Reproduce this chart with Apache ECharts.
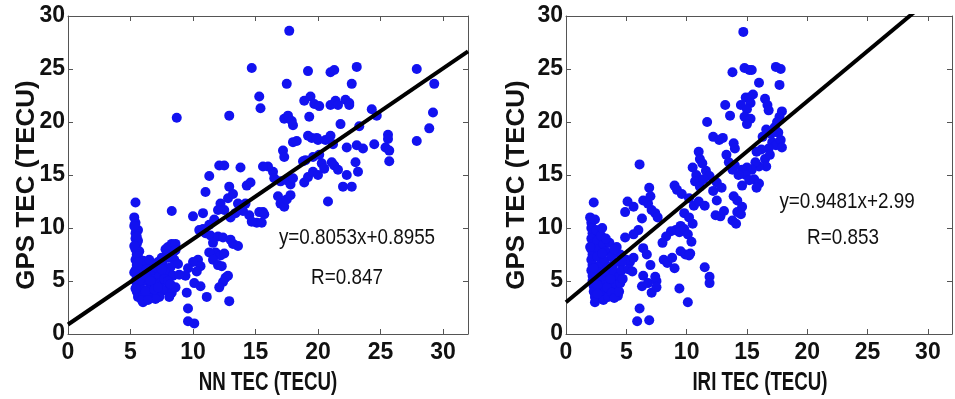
<!DOCTYPE html>
<html>
<head>
<meta charset="utf-8">
<script src="https://cdn.jsdelivr.net/npm/echarts@6/dist/echarts.min.js"></script>
<style>
html,body{margin:0;padding:0;background:#fff;}
#chart{width:955px;height:399px;}
</style>
</head>
<body>
<div id="chart"></div>
<script>
// ---------- Data ----------
var tickValues = [0, 5, 10, 15, 20, 25, 30];
var axisNames = { leftX: 'NN TEC (TECU)', rightX: 'IRI TEC (TECU)', y: 'GPS TEC (TECU)' };
var fitLeft = { slope: 0.8053, intercept: 0.8955, label: 'y=0.8053x+0.8955', r: 'R=0.847' };
var fitRight = { slope: 0.9481, intercept: 2.99, label: 'y=0.9481x+2.99', r: 'R=0.853' };

// Left panel: NN TEC (x) vs GPS TEC (y)
var nnTEC = [
17.7,14.7,19.2,21.0,21.3,23.1,27.9,29.3,17.5,22.7,15.3,15.4,18.9,19.4,19.7,20.1,21.0,21.4,21.6,22.2,22.5,22.5,24.3,24.7,29.2,28.9,27.9,
8.7,12.9,17.3,17.6,17.9,18.0,19.3,20.0,21.8,23.3,18.0,18.3,19.2,19.5,19.9,20.6,21.0,21.2,22.3,23.1,23.6,24.5,25.4,25.6,25.6,25.7,25.7,
17.2,17.3,18.8,19.0,19.6,20.1,20.3,20.5,21.1,21.3,21.6,22.0,22.7,22.3,23.0,23.2,20.8,18.9,19.2,19.6,20.0,16.4,16.5,17.0,17.5,17.8,18.0,
16.0,15.6,16.8,17.0,17.3,17.5,17.8,15.3,15.6,15.7,15.1,15.5,14.5,14.7,14.0,14.2,13.8,11.3,12.1,12.5,14.3,14.6,12.9,12.8,12.2,12.5,
11.0,13.2,13.6,13.4,13.0,12.0,11.7,11.3,10.0,10.8,8.3,10.5,10.8,11.0,11.4,12.0,12.4,13.0,13.2,13.6,11.6,11.8,12.2,12.5,11.3,11.6,12.0,12.3,
10.4,10.6,10.0,10.3,9.6,9.4,10.1,12.6,12.8,12.4,12.1,10.6,9.5,11.1,12.9,9.6,9.6,10.1,
8.3,8.0,8.6,8.4,7.8,8.5,8.2,8.8,7.9,7.6,7.2,7.8,8.4,8.0,8.3,8.6,
5.4,5.4,5.4,5.4,5.4,5.5,5.4,5.5,5.4,5.5,5.4,5.5,5.4,5.5,5.5,5.6,
5.6,5.6,5.7,5.6,5.7,5.8,5.8,5.9,6.0,6.0,
6.2,6.4,6.3,6.5,6.6,6.8,6.9,7.0,7.1,7.3,7.4,7.6,7.3,6.2,6.7,7.0,6.0,6.5,
5.3,5.3,5.5,5.3,5.6,5.3,5.7,5.4,5.9,6.1,6.3,6.6,6.9,7.2,7.5,7.7,8.0,8.2,7.0,6.4,8.0,8.6,7.5,8.9,8.1
];
var gpsTEC_NN = [
28.6,25.1,24.8,24.7,24.9,25.2,25.0,23.6,23.6,23.6,22.4,21.3,22.0,22.4,21.7,21.5,21.6,22.0,21.6,22.1,21.8,21.6,21.2,20.6,20.9,19.4,18.2,
20.4,20.6,20.3,20.6,20.1,19.7,20.5,18.3,19.8,19.6,18.1,18.2,18.7,18.5,18.5,18.3,18.7,17.9,17.6,17.8,17.5,17.9,17.6,18.8,18.4,17.3,16.3,
17.3,16.7,16.3,16.4,16.7,16.9,16.1,15.6,16.2,15.9,15.5,13.9,13.9,15.0,16.2,15.3,12.5,14.3,14.8,15.3,15.0,15.3,14.7,14.4,14.5,14.1,14.7,
15.8,15.8,13.0,12.3,12.0,12.7,13.1,11.5,11.5,11.3,10.5,10.5,11.2,10.6,11.6,12.3,15.7,14.9,15.9,15.9,14.0,14.3,13.9,12.8,12.3,11.7,
13.4,13.2,12.3,11.4,11.0,11.7,10.8,10.3,11.1,11.4,11.6,9.8,9.9,9.5,9.3,9.2,9.1,8.9,8.5,8.3,8.6,7.7,7.4,7.6,7.7,7.0,6.5,6.4,
7.0,6.4,6.8,5.9,6.2,5.5,4.8,5.3,5.5,4.9,4.4,4.5,3.9,3.5,3.1,2.4,1.2,1.0,
8.5,8.2,8.5,7.7,8.0,7.0,6.3,6.6,7.5,6.5,6.8,5.8,5.5,4.3,3.9,4.4,
12.4,10.5,10.0,9.5,9.0,8.5,8.0,7.5,7.0,6.5,6.0,5.5,5.0,4.5,4.0,3.5,
9.8,8.8,7.8,7.3,6.2,5.3,4.8,4.2,3.6,3.0,
6.5,5.8,5.0,4.3,3.6,6.0,5.2,4.6,3.9,5.5,4.8,4.1,3.5,4.0,6.6,6.3,6.9,7.0,
11.0,10.2,9.2,8.3,6.8,5.8,5.0,4.3,3.2,5.6,6.1,5.0,4.2,4.4,6.1,5.2,5.0,4.7,3.3,3.2,7.2,7.9,7.2,5.6,3.5
];

// Right panel: IRI TEC (x) vs GPS TEC (y)
var iriTEC = [
14.7,13.8,14.8,15.2,15.4,17.4,17.8,16.0,17.7,13.2,13.6,14.5,14.9,15.2,15.5,15.3,15.0,16.5,16.7,16.8,14.8,15.3,15.0,
11.7,12.2,12.7,13.0,13.9,14.0,
17.9,17.7,17.5,17.3,17.6,17.0,16.6,16.3,17.1,17.4,17.8,17.9,16.8,16.2,15.8,
16.5,16.9,16.6,16.0,15.7,15.4,15.0,14.6,14.9,15.2,15.6,16.0,15.8,14.6,14.3,
13.3,13.5,13.8,14.0,13.9,14.2,14.6,14.2,14.5,13.8,14.1,12.4,12.8,13.1,12.5,12.2,12.5,12.9,
11.0,11.1,11.3,11.6,11.9,10.5,10.8,10.7,11.1,11.4,9.0,9.2,9.6,10.2,10.6,11.0,11.5,
9.8,10.2,10.5,9.5,9.1,9.4,9.8,10.1,10.4,10.3,9.9,9.5,8.7,8.3,8.0,8.1,8.4,8.8,9.0,
7.4,7.1,6.8,6.4,6.9,7.0,7.6,5.1,4.9,5.6,6.1,6.3,6.0,5.6,4.9,6.4,6.7,7.0,
6.4,6.3,6.8,7.1,7.5,7.4,7.5,6.1,5.9,6.9,9.4,10.1,11.5,11.9,11.9,10.2,
5.0,5.3,5.6,4.6,4.2,4.5,
2.3,2.1,2.1,2.2,2.1,2.2,2.1,2.2,2.1,2.2,2.1,2.2,2.2,2.3,2.3,2.4,2.4,
2.5,2.6,2.7,2.6,2.8,2.7,2.9,2.8,3.0,3.1,
3.1,3.3,3.2,3.4,3.5,3.3,3.6,3.5,3.8,3.9,4.0,4.1,4.2,4.3,3.9,4.4,4.6,3.6,2.9,3.0,
2.0,2.4,2.0,2.3,2.5,2.6,2.6,3.0,3.2,3.4,3.7,3.8,4.0,4.4,4.5,3.0,3.3,4.0,4.7,5.2,5.5
];
var gpsTEC_IRI = [
28.5,24.7,25.1,24.9,24.9,25.2,25.0,23.7,23.5,21.6,20.6,21.6,22.3,22.3,22.6,21.8,21.2,22.2,21.6,21.1,20.5,20.3,19.8,
20.0,18.6,18.3,18.5,18.0,17.5,
21.0,20.5,20.0,19.5,19.0,18.9,19.3,18.6,18.1,17.8,18.3,17.6,17.5,17.4,17.2,
16.5,16.9,15.8,15.8,16.2,15.5,15.7,15.5,15.0,14.5,14.6,14.2,13.8,14.0,15.0,
16.9,16.2,15.5,15.9,13.0,12.6,12.0,11.5,11.3,10.7,10.4,11.2,11.1,11.6,12.6,13.5,14.3,13.8,
17.2,16.5,16.1,15.4,14.9,15.7,15.0,14.4,13.9,14.6,14.0,13.6,13.2,12.8,12.1,12.5,12.1,
11.4,11.0,10.4,10.2,9.8,9.6,9.9,9.4,8.7,7.6,7.5,7.8,9.7,9.2,8.6,7.0,6.7,7.2,6.2,
11.4,11.7,12.3,12.6,13.8,13.0,11.0,12.5,11.5,12.0,16.0,10.9,9.8,9.4,9.1,8.1,7.5,6.5,
5.5,4.5,4.8,3.9,5.0,5.4,4.4,2.4,1.2,1.3,4.3,3.0,6.3,5.4,4.8,7.4,
7.0,6.8,7.2,6.7,8.2,7.5,
12.4,10.5,10.0,9.5,9.0,8.5,8.0,7.5,7.0,6.5,6.0,5.5,5.0,4.5,4.0,3.5,3.0,
9.8,8.8,8.0,7.3,6.5,5.8,5.0,4.3,3.7,3.2,
8.5,7.8,6.9,6.2,5.5,4.8,4.1,3.5,7.3,6.5,5.8,5.0,4.3,3.6,4.7,5.4,6.0,8.6,9.3,7.6,
11.0,10.8,8.2,6.2,5.3,4.6,3.8,5.5,5.9,4.4,5.2,3.9,3.4,4.0,4.8,10.0,9.0,8.0,5.2,6.1,5.9
];

// ---------- Helpers ----------
function pairs(xs, ys) {
  var out = [];
  for (var i = 0; i < xs.length && i < ys.length; i++) out.push([xs[i], ys[i]]);
  return out;
}
function fitLine(fit, x0, x1) {
  return [[x0, fit.slope * x0 + fit.intercept], [x1, fit.slope * x1 + fit.intercept]];
}

var font = '"Liberation Sans", Arial, Helvetica, sans-serif';
var ink = '#111';
var blue = '#1212f0';
var boxColor = '#555';

var chart = echarts.init(document.getElementById('chart'), null, { renderer: 'canvas' });

function xAxisDef(grid, pos) {
  var main = pos === 'bottom';
  return {
    type: 'value', gridIndex: grid, position: pos, min: 0, max: 32, interval: 5,
    axisLine: { show: true, onZero: false, lineStyle: { color: boxColor, width: 1 } },
    axisTick: { show: true, inside: true, length: 5, lineStyle: { color: boxColor } },
    axisLabel: { show: main, margin: 7, fontFamily: font, fontSize: 23, fontWeight: 'bold', color: ink,
      formatter: function (v) { return tickValues.indexOf(v) >= 0 ? String(v) : ''; } },
    splitLine: { show: false }
  };
}
function yAxisDef(grid, pos) {
  var main = pos === 'left';
  return {
    type: 'value', gridIndex: grid, position: pos, min: 0, max: 30, interval: 5,
    axisLine: { show: true, onZero: false, lineStyle: { color: boxColor, width: 1 } },
    axisTick: { show: true, inside: true, length: 5, lineStyle: { color: boxColor } },
    axisLabel: { show: main, margin: 3, fontFamily: font, fontSize: 23, fontWeight: 'bold', color: ink },
    splitLine: { show: false }
  };
}
function label(text, x, y, size, weight, sx, rot) {
  return { type: 'text', x: x, y: y, scaleX: sx, rotation: rot || 0, silent: true,
    style: { text: text, align: 'center', verticalAlign: 'middle',
      font: weight + ' ' + size + 'px ' + font, fill: ink } };
}

var option = {
  animation: false,
  backgroundColor: '#fff',
  grid: [
    { left: 68, top: 16, width: 400, height: 318 },
    { left: 566, top: 16, width: 386, height: 318 }
  ],
  xAxis: [ xAxisDef(0, 'bottom'), xAxisDef(0, 'top'), xAxisDef(1, 'bottom'), xAxisDef(1, 'top') ],
  yAxis: [ yAxisDef(0, 'left'), yAxisDef(0, 'right'), yAxisDef(1, 'left'), yAxisDef(1, 'right') ],
  series: [
    { type: 'scatter', xAxisIndex: 0, yAxisIndex: 0, data: pairs(nnTEC, gpsTEC_NN),
      symbol: 'circle', symbolSize: 10, itemStyle: { color: blue, opacity: 1 } },
    { type: 'line', xAxisIndex: 0, yAxisIndex: 0, data: fitLine(fitLeft, 0, 32), clip: true,
      showSymbol: false, symbol: 'none', lineStyle: { color: '#000', width: 4 } },
    { type: 'scatter', xAxisIndex: 2, yAxisIndex: 2, data: pairs(iriTEC, gpsTEC_IRI),
      symbol: 'circle', symbolSize: 10, itemStyle: { color: blue, opacity: 1 } },
    { type: 'line', xAxisIndex: 2, yAxisIndex: 2, data: fitLine(fitRight, 0, 32), clip: true,
      showSymbol: false, symbol: 'none', lineStyle: { color: '#000', width: 4 } }
  ],
  graphic: [
    label(fitLeft.label, 357, 238, 22, 'normal', 0.857),
    label(fitLeft.r, 347, 278, 22, 'normal', 0.857),
    label(fitRight.label, 847, 202, 22, 'normal', 0.857),
    label(fitRight.r, 843, 238, 22, 'normal', 0.857),
    label(axisNames.leftX, 268, 383, 26, 'bold', 0.72),
    label(axisNames.rightX, 760, 383, 26, 'bold', 0.72),
    label(axisNames.y, 27, 185, 26, 'bold', 1, Math.PI / 2),
    label(axisNames.y, 517, 185, 26, 'bold', 1, Math.PI / 2)
  ]
};
chart.setOption(option);
</script>
</body>
</html>
